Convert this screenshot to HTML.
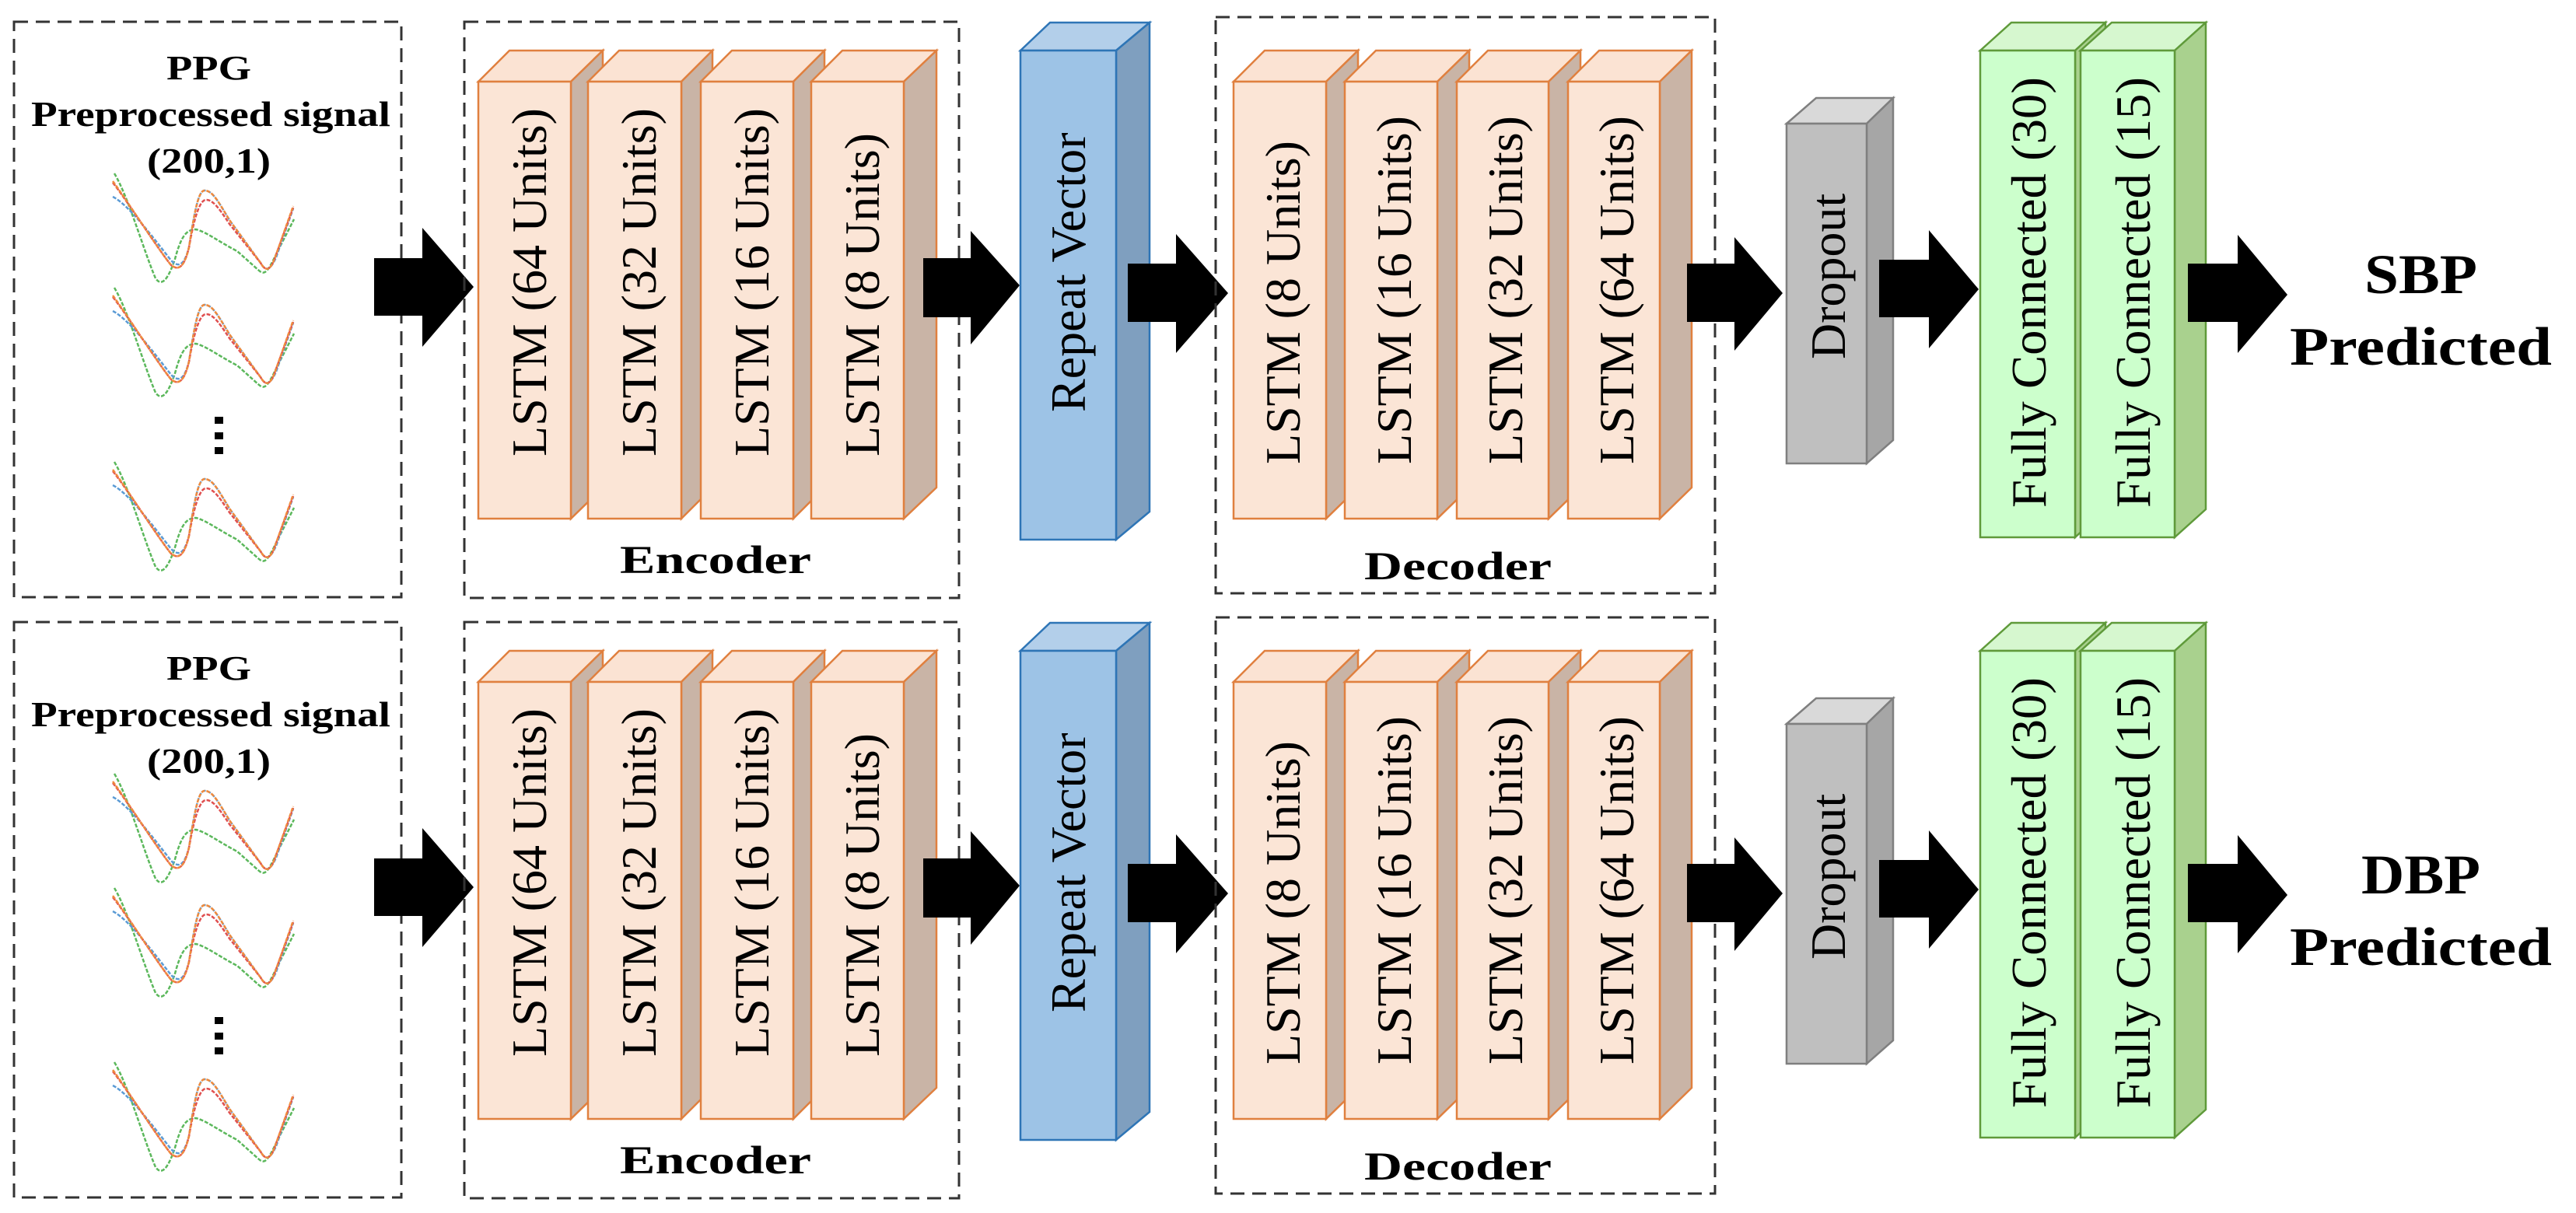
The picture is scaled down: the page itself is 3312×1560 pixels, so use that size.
<!DOCTYPE html>
<html><head><meta charset="utf-8"><style>
html,body{margin:0;padding:0;background:#fff;}
svg{display:block;}
text{font-family:"Liberation Serif",serif;fill:#000;}
.b{font-weight:bold;}
</style></head><body>
<svg width="3312" height="1560" viewBox="0 0 3312 1560" xmlns="http://www.w3.org/2000/svg">
<defs>
<g id="wave">
<path d="M2,0 C20,30 40,100 55,135 C62,145 70,140 80,110 C88,80 95,72 107,72 C120,75 140,90 160,100 L188,125 C196,132 200,125 212,100 L233,59" fill="none" stroke="#5cb85c" stroke-width="2.5" stroke-dasharray="5 2"/>
<path d="M0,30 C20,40 50,80 75,112 C85,122 92,118 98,95 C105,50 110,22 118,22 C128,22 135,35 150,60 L190,115 C196,126 202,126 210,108 L232,45" fill="none" stroke="#5b9bd5" stroke-width="2.5" stroke-dasharray="5 2"/>
<path d="M0,12 C15,30 60,100 75,118 C85,126 92,120 98,95 C105,55 112,34 120,34 C128,34 135,42 150,65 L190,115 C196,126 202,126 208,110 L232,44" fill="none" stroke="#e05050" stroke-width="2.5" stroke-dasharray="5 2"/>
<path d="M0,10 C15,30 60,100 75,118 C85,126 92,120 98,95 C105,50 110,22 118,22 C128,22 135,35 150,60 L190,115 C196,126 202,126 208,110 L232,42" fill="none" stroke="#f08a3c" stroke-width="2.5" stroke-dasharray="5 2"/>
</g>
</defs>

<!-- ===== ROW 1 ===== -->
<g>
<rect x="18" y="28" width="498" height="740" fill="none" stroke="#333" stroke-width="3" stroke-dasharray="18 10"/>
<text class="b" x="214" y="102" font-size="44" textLength="109" lengthAdjust="spacingAndGlyphs">PPG</text>
<text class="b" x="40" y="162" font-size="46" textLength="462" lengthAdjust="spacingAndGlyphs">Preprocessed signal</text>
<text class="b" x="189" y="222" font-size="46" textLength="159" lengthAdjust="spacingAndGlyphs">(200,1)</text>
<use href="#wave" x="145" y="223"/>
<use href="#wave" x="145" y="370"/>
<use href="#wave" x="145" y="594"/>
<rect x="276" y="536" width="11" height="9" fill="#000"/><rect x="276" y="556" width="11" height="9" fill="#000"/><rect x="276" y="575" width="11" height="9" fill="#000"/>

<polygon points="481,332 543,332 543,293 609,369 543,446 543,406 481,406" fill="#000"/>

<rect x="597" y="28" width="636" height="741" fill="none" stroke="#333" stroke-width="3" stroke-dasharray="18 10"/>
<!-- encoder lstms -->
<g stroke="#e0803f" stroke-width="2.5">
<polygon points="615,105 655,65 775,65 734,105" fill="#fbe3d3"/><polygon points="734,105 775,65 775,627 734,667" fill="#c9b4a6"/><rect x="615" y="105" width="119" height="562" fill="#fbe5d6"/>
<polygon points="756,105 796,65 916,65 876,105" fill="#fbe3d3"/><polygon points="876,105 916,65 916,627 876,667" fill="#c9b4a6"/><rect x="756" y="105" width="120" height="562" fill="#fbe5d6"/>
<polygon points="901,105 941,65 1060,65 1020,105" fill="#fbe3d3"/><polygon points="1020,105 1060,65 1060,627 1020,667" fill="#c9b4a6"/><rect x="901" y="105" width="119" height="562" fill="#fbe5d6"/>
<polygon points="1043,105 1083,65 1204,65 1162,105" fill="#fbe3d3"/><polygon points="1162,105 1204,65 1204,627 1162,667" fill="#c9b4a6"/><rect x="1043" y="105" width="119" height="562" fill="#fbe5d6"/>
</g>
<text font-size="64" transform="translate(702,587) rotate(-90)">LSTM (64 Units)</text>
<text font-size="64" transform="translate(843,587) rotate(-90)">LSTM (32 Units)</text>
<text font-size="64" transform="translate(988,587) rotate(-90)">LSTM (16 Units)</text>
<text font-size="64" transform="translate(1130,587) rotate(-90)">LSTM (8 Units)</text>
<text class="b" x="797" y="737" font-size="51" textLength="246" lengthAdjust="spacingAndGlyphs">Encoder</text>

<polygon points="1187,332 1248,332 1248,297 1311,367 1248,443 1248,408 1187,408" fill="#000"/>

<!-- repeat vector -->
<g stroke="#2e75b6" stroke-width="2.5">
<polygon points="1312,65 1350,29 1478,29 1435,65" fill="#b3cfea"/>
<polygon points="1435,65 1478,29 1478,658 1435,694" fill="#7f9fbf"/>
<rect x="1312" y="65" width="123" height="629" fill="#9dc3e6"/>
</g>
<text font-size="64" transform="translate(1395,530) rotate(-90)">Repeat Vector</text>

<polygon points="1450,339 1512,339 1512,301 1579,377 1512,454 1512,414 1450,414" fill="#000"/>

<rect x="1563" y="22" width="642" height="741" fill="none" stroke="#333" stroke-width="3" stroke-dasharray="18 10"/>
<g stroke="#e0803f" stroke-width="2.5">
<polygon points="1586,105 1626,65 1746,65 1705,105" fill="#fbe3d3"/><polygon points="1705,105 1746,65 1746,627 1705,667" fill="#c9b4a6"/><rect x="1586" y="105" width="119" height="562" fill="#fbe5d6"/>
<polygon points="1729,105 1769,65 1889,65 1848,105" fill="#fbe3d3"/><polygon points="1848,105 1889,65 1889,627 1848,667" fill="#c9b4a6"/><rect x="1729" y="105" width="119" height="562" fill="#fbe5d6"/>
<polygon points="1873,105 1913,65 2032,65 1991,105" fill="#fbe3d3"/><polygon points="1991,105 2032,65 2032,627 1991,667" fill="#c9b4a6"/><rect x="1873" y="105" width="118" height="562" fill="#fbe5d6"/>
<polygon points="2016,105 2056,65 2175,65 2134,105" fill="#fbe3d3"/><polygon points="2134,105 2175,65 2175,627 2134,667" fill="#c9b4a6"/><rect x="2016" y="105" width="118" height="562" fill="#fbe5d6"/>
</g>
<text font-size="64" transform="translate(1671,597) rotate(-90)">LSTM (8 Units)</text>
<text font-size="64" transform="translate(1814,597) rotate(-90)">LSTM (16 Units)</text>
<text font-size="64" transform="translate(1957,597) rotate(-90)">LSTM (32 Units)</text>
<text font-size="64" transform="translate(2100,597) rotate(-90)">LSTM (64 Units)</text>
<text class="b" x="1754" y="745" font-size="51" textLength="241" lengthAdjust="spacingAndGlyphs">Decoder</text>

<polygon points="2169,339 2230,339 2230,305 2292,377 2230,451 2230,414 2169,414" fill="#000"/>

<!-- dropout -->
<g stroke="#7f7f7f" stroke-width="2.5">
<polygon points="2297,159 2335,126 2434,126 2400,159" fill="#d9d9d9"/>
<polygon points="2400,159 2434,126 2434,566 2400,596" fill="#a6a6a6"/>
<rect x="2297" y="159" width="103" height="437" fill="#bfbfbf"/>
</g>
<text font-size="64" transform="translate(2372,462) rotate(-90)">Dropout</text>

<polygon points="2416,334 2480,334 2480,296 2544,372 2480,448 2480,408 2416,408" fill="#000"/>

<!-- FC -->
<g stroke="#5f9a3a" stroke-width="2.5">
<polygon points="2546,65 2586,29 2707,29 2668,65" fill="#d6f7cf"/><polygon points="2668,65 2707,29 2707,655 2668,691" fill="#a9d18e"/><rect x="2546" y="65" width="122" height="626" fill="#ccffcc"/>
<polygon points="2675,65 2715,29 2836,29 2796,65" fill="#d6f7cf"/><polygon points="2796,65 2836,29 2836,655 2796,691" fill="#a9d18e"/><rect x="2675" y="65" width="121" height="626" fill="#ccffcc"/>
</g>
<text font-size="64" transform="translate(2630,653) rotate(-90)" textLength="554" lengthAdjust="spacingAndGlyphs">Fully Connected (30)</text>
<text font-size="64" transform="translate(2764,653) rotate(-90)" textLength="554" lengthAdjust="spacingAndGlyphs">Fully Connected (15)</text>

<polygon points="2813,339 2877,339 2877,302 2941,379 2877,454 2877,414 2813,414" fill="#000"/>
<text class="b" x="3040" y="377" font-size="72" textLength="145" lengthAdjust="spacingAndGlyphs">SBP</text>
<text class="b" x="2944" y="469" font-size="70" textLength="337" lengthAdjust="spacingAndGlyphs">Predicted</text>
</g>

<!-- ===== ROW 2 ===== -->
<g transform="translate(0,772)">
<rect x="18" y="28" width="498" height="740" fill="none" stroke="#333" stroke-width="3" stroke-dasharray="18 10"/>
<text class="b" x="214" y="102" font-size="44" textLength="109" lengthAdjust="spacingAndGlyphs">PPG</text>
<text class="b" x="40" y="162" font-size="46" textLength="462" lengthAdjust="spacingAndGlyphs">Preprocessed signal</text>
<text class="b" x="189" y="222" font-size="46" textLength="159" lengthAdjust="spacingAndGlyphs">(200,1)</text>
<use href="#wave" x="145" y="223"/>
<use href="#wave" x="145" y="370"/>
<use href="#wave" x="145" y="594"/>
<rect x="276" y="536" width="11" height="9" fill="#000"/><rect x="276" y="556" width="11" height="9" fill="#000"/><rect x="276" y="575" width="11" height="9" fill="#000"/>

<polygon points="481,332 543,332 543,293 609,369 543,446 543,406 481,406" fill="#000"/>

<rect x="597" y="28" width="636" height="741" fill="none" stroke="#333" stroke-width="3" stroke-dasharray="18 10"/>
<g stroke="#e0803f" stroke-width="2.5">
<polygon points="615,105 655,65 775,65 734,105" fill="#fbe3d3"/><polygon points="734,105 775,65 775,627 734,667" fill="#c9b4a6"/><rect x="615" y="105" width="119" height="562" fill="#fbe5d6"/>
<polygon points="756,105 796,65 916,65 876,105" fill="#fbe3d3"/><polygon points="876,105 916,65 916,627 876,667" fill="#c9b4a6"/><rect x="756" y="105" width="120" height="562" fill="#fbe5d6"/>
<polygon points="901,105 941,65 1060,65 1020,105" fill="#fbe3d3"/><polygon points="1020,105 1060,65 1060,627 1020,667" fill="#c9b4a6"/><rect x="901" y="105" width="119" height="562" fill="#fbe5d6"/>
<polygon points="1043,105 1083,65 1204,65 1162,105" fill="#fbe3d3"/><polygon points="1162,105 1204,65 1204,627 1162,667" fill="#c9b4a6"/><rect x="1043" y="105" width="119" height="562" fill="#fbe5d6"/>
</g>
<text font-size="64" transform="translate(702,587) rotate(-90)">LSTM (64 Units)</text>
<text font-size="64" transform="translate(843,587) rotate(-90)">LSTM (32 Units)</text>
<text font-size="64" transform="translate(988,587) rotate(-90)">LSTM (16 Units)</text>
<text font-size="64" transform="translate(1130,587) rotate(-90)">LSTM (8 Units)</text>
<text class="b" x="797" y="737" font-size="51" textLength="246" lengthAdjust="spacingAndGlyphs">Encoder</text>

<polygon points="1187,332 1248,332 1248,297 1311,367 1248,443 1248,408 1187,408" fill="#000"/>

<g stroke="#2e75b6" stroke-width="2.5">
<polygon points="1312,65 1350,29 1478,29 1435,65" fill="#b3cfea"/>
<polygon points="1435,65 1478,29 1478,658 1435,694" fill="#7f9fbf"/>
<rect x="1312" y="65" width="123" height="629" fill="#9dc3e6"/>
</g>
<text font-size="64" transform="translate(1395,530) rotate(-90)">Repeat Vector</text>

<polygon points="1450,339 1512,339 1512,301 1579,377 1512,454 1512,414 1450,414" fill="#000"/>

<rect x="1563" y="22" width="642" height="741" fill="none" stroke="#333" stroke-width="3" stroke-dasharray="18 10"/>
<g stroke="#e0803f" stroke-width="2.5">
<polygon points="1586,105 1626,65 1746,65 1705,105" fill="#fbe3d3"/><polygon points="1705,105 1746,65 1746,627 1705,667" fill="#c9b4a6"/><rect x="1586" y="105" width="119" height="562" fill="#fbe5d6"/>
<polygon points="1729,105 1769,65 1889,65 1848,105" fill="#fbe3d3"/><polygon points="1848,105 1889,65 1889,627 1848,667" fill="#c9b4a6"/><rect x="1729" y="105" width="119" height="562" fill="#fbe5d6"/>
<polygon points="1873,105 1913,65 2032,65 1991,105" fill="#fbe3d3"/><polygon points="1991,105 2032,65 2032,627 1991,667" fill="#c9b4a6"/><rect x="1873" y="105" width="118" height="562" fill="#fbe5d6"/>
<polygon points="2016,105 2056,65 2175,65 2134,105" fill="#fbe3d3"/><polygon points="2134,105 2175,65 2175,627 2134,667" fill="#c9b4a6"/><rect x="2016" y="105" width="118" height="562" fill="#fbe5d6"/>
</g>
<text font-size="64" transform="translate(1671,597) rotate(-90)">LSTM (8 Units)</text>
<text font-size="64" transform="translate(1814,597) rotate(-90)">LSTM (16 Units)</text>
<text font-size="64" transform="translate(1957,597) rotate(-90)">LSTM (32 Units)</text>
<text font-size="64" transform="translate(2100,597) rotate(-90)">LSTM (64 Units)</text>
<text class="b" x="1754" y="745" font-size="51" textLength="241" lengthAdjust="spacingAndGlyphs">Decoder</text>

<polygon points="2169,339 2230,339 2230,305 2292,377 2230,451 2230,414 2169,414" fill="#000"/>

<g stroke="#7f7f7f" stroke-width="2.5">
<polygon points="2297,159 2335,126 2434,126 2400,159" fill="#d9d9d9"/>
<polygon points="2400,159 2434,126 2434,566 2400,596" fill="#a6a6a6"/>
<rect x="2297" y="159" width="103" height="437" fill="#bfbfbf"/>
</g>
<text font-size="64" transform="translate(2372,462) rotate(-90)">Dropout</text>

<polygon points="2416,334 2480,334 2480,296 2544,372 2480,448 2480,408 2416,408" fill="#000"/>

<g stroke="#5f9a3a" stroke-width="2.5">
<polygon points="2546,65 2586,29 2707,29 2668,65" fill="#d6f7cf"/><polygon points="2668,65 2707,29 2707,655 2668,691" fill="#a9d18e"/><rect x="2546" y="65" width="122" height="626" fill="#ccffcc"/>
<polygon points="2675,65 2715,29 2836,29 2796,65" fill="#d6f7cf"/><polygon points="2796,65 2836,29 2836,655 2796,691" fill="#a9d18e"/><rect x="2675" y="65" width="121" height="626" fill="#ccffcc"/>
</g>
<text font-size="64" transform="translate(2630,653) rotate(-90)" textLength="554" lengthAdjust="spacingAndGlyphs">Fully Connected (30)</text>
<text font-size="64" transform="translate(2764,653) rotate(-90)" textLength="554" lengthAdjust="spacingAndGlyphs">Fully Connected (15)</text>

<polygon points="2813,339 2877,339 2877,302 2941,379 2877,454 2877,414 2813,414" fill="#000"/>
<text class="b" x="3036" y="377" font-size="72" textLength="153" lengthAdjust="spacingAndGlyphs">DBP</text>
<text class="b" x="2944" y="469" font-size="70" textLength="337" lengthAdjust="spacingAndGlyphs">Predicted</text>
</g>
</svg>
</body></html>
